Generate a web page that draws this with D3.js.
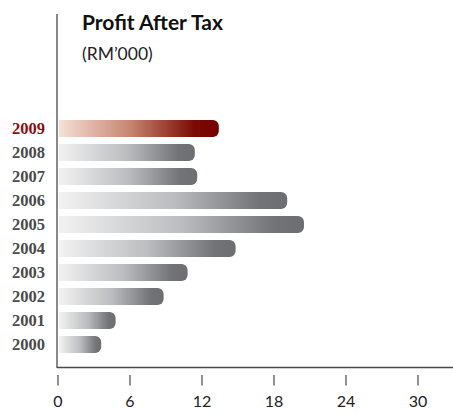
<!DOCTYPE html>
<html>
<head>
<meta charset="utf-8">
<script src="https://cdn.jsdelivr.net/npm/d3@7"></script>
<style>
  body { margin: 0; background: #fff; }
</style>
</head>
<body>
<div id="chart"></div>
<script>
// data
const years = ["2009", "2008", "2007", "2006", "2005", "2004", "2003", "2002", "2001", "2000"];
const profit = [13.4, 11.4, 11.6, 19.1, 20.5, 14.8, 10.8, 8.8, 4.8, 3.6];
const tickValues = [0, 6, 12, 18, 24, 30];

const width = 453, height = 412;

const svg = d3.select("#chart").append("svg")
    .attr("width", width)
    .attr("height", height);

const x = d3.scaleLinear().domain([0, 30]).range([58, 418]);
const y = d3.scaleBand().domain(years).range([116.5, 356.5])
    .paddingInner(0.29).paddingOuter(0.145);

// gradients, one grey and one red for the current year
const defs = svg.append("defs");
const grey = defs.append("linearGradient").attr("id", "gGrey");
grey.append("stop").attr("offset", "0%").attr("stop-color", "#f2f2f2");
grey.append("stop").attr("offset", "50%").attr("stop-color", "#bcbdc0");
grey.append("stop").attr("offset", "88%").attr("stop-color", "#727377");
grey.append("stop").attr("offset", "100%").attr("stop-color", "#6d6e72");
const red = defs.append("linearGradient").attr("id", "gRed");
red.append("stop").attr("offset", "0%").attr("stop-color", "#f6e0d6");
red.append("stop").attr("offset", "45%").attr("stop-color", "#c68470");
red.append("stop").attr("offset", "85%").attr("stop-color", "#7a0a04");
red.append("stop").attr("offset", "100%").attr("stop-color", "#760000");

// axis lines
svg.append("line")
    .attr("x1", 57).attr("x2", 57).attr("y1", 14).attr("y2", 368)
    .attr("stroke", "#4a4a4a").attr("stroke-width", 1.3);
svg.append("line")
    .attr("x1", 57).attr("x2", width).attr("y1", 367.5).attr("y2", 367.5)
    .attr("stroke", "#4a4a4a").attr("stroke-width", 1.3);

// title
svg.append("text").attr("x", 82).attr("y", 30)
    .style("font-family", "Lato").style("font-weight", "bold").style("font-size", "21px")
    .attr("fill", "#111").text("Profit After Tax");
svg.append("text").attr("x", 82).attr("y", 60)
    .style("font-family", "Lato").style("font-size", "17.5px")
    .attr("fill", "#222").text("(RM’000)");

// bars: square on the left, rounded on the right
const r = 6;
function barPath(v, yr) {
    const x0 = x(0) + 1, x1 = x(v), y0 = y(yr), h = y.bandwidth();
    return `M${x0},${y0} H${x1 - r} A${r},${r} 0 0 1 ${x1},${y0 + r} V${y0 + h - r} A${r},${r} 0 0 1 ${x1 - r},${y0 + h} H${x0} Z`;
}

svg.append("g")
    .selectAll("path")
    .data(years)
    .join("path")
    .attr("d", (d, i) => barPath(profit[i], d))
    .attr("fill", d => d === "2009" ? "url(#gRed)" : "url(#gGrey)");

// year labels
svg.append("g")
    .selectAll("text")
    .data(years)
    .join("text")
    .attr("x", 45)
    .attr("y", d => y(d) + y.bandwidth() / 2)
    .attr("dy", "0.36em")
    .attr("text-anchor", "end")
    .style("font-family", "Liberation Serif")
    .style("font-weight", "bold")
    .style("font-size", "16.5px")
    .attr("fill", d => d === "2009" ? "#8b0d10" : "#4a4a4a")
    .text(d => d);

// ticks below the axis
const ticks = svg.append("g");
ticks.selectAll("line")
    .data(tickValues)
    .join("line")
    .attr("x1", d => x(d)).attr("x2", d => x(d))
    .attr("y1", 375).attr("y2", 385.5)
    .attr("stroke", "#444").attr("stroke-width", 1.2);
ticks.selectAll("text")
    .data(tickValues)
    .join("text")
    .attr("x", d => x(d))
    .attr("y", 407)
    .attr("text-anchor", "middle")
    .style("font-family", "Lato")
    .style("font-size", "16px")
    .attr("fill", "#222")
    .text(d => d);
</script>
</body>
</html>
